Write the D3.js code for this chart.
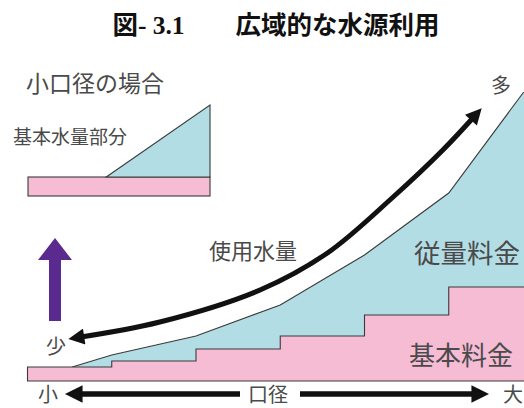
<!DOCTYPE html>
<html>
<head>
<meta charset="utf-8">
<script src="https://cdn.jsdelivr.net/npm/d3@7"></script>
<style>
  html, body { margin: 0; padding: 0; background: #fff; }
  svg { display: block; }
</style>
</head>
<body>
<svg id="chart" width="524" height="408"></svg>
<script>
// Meter diameter steps (small -> large)
const diameterSteps = [0, 1, 2, 3, 4, 5, 6];

// Basic charge per diameter step (stepped)
const basicCharge = [14, 20, 32, 45, 66, 94];

// Total charge (basic + volume charge) along the diameter axis
const totalX = [0.53, 1, 2, 3, 4, 5, 5.89];
const totalY = [14, 26, 45, 76, 126, 188, 289];

// Water usage trend curve
const usageX = [0.56, 1.57, 2.76, 3.56, 4.34, 4.93, 5.34];
const usageY = [43, 59, 91, 128, 184, 231, 268];

// Small-diameter inset: basic charge bar and basic-volume wedge
const insetX = [0.43, 1, 1];
const insetBasic = 19;
const insetVolume = [0, 72, 0];

const labels = {
  title: "図- 3.1　　広域的な水源利用",
  inset: "小口径の場合",
  insetPart: "基本水量部分",
  usage: "使用水量",
  volume: "従量料金",
  basic: "基本料金",
  many: "多",
  few: "少",
  small: "小",
  diameter: "口径",
  large: "大"
};

const svg = d3.select("#chart");
const BLUE = "#b3dde4";
const PINK = "#f5bcd4";
const EDGE = "#3a3a3a";
const TEXT = "#4a4a4a";
const CJK = "'Noto Sans CJK JP', 'Noto Sans', sans-serif";

// Main scales
const x = d3.scaleLinear().domain([0, 6]).range([27.5, 533]);
const y = d3.scaleLinear().domain([0, 300]).range([381, 81]);

// Volume charge area (drawn to baseline, basic charge sits on top)
const totalPts = totalX.map((v, i) => [v, totalY[i]]);
const areaTotal = d3.area()
  .x(d => x(d[0])).y0(y(0)).y1(d => y(d[1]));
svg.append("path")
  .datum([[totalX[0], 0], ...totalPts, [6, totalY[totalY.length - 1]]])
  .attr("d", areaTotal)
  .attr("fill", BLUE);
svg.append("path")
  .datum(totalPts)
  .attr("d", d3.line().x(d => x(d[0])).y(d => y(d[1])))
  .attr("fill", "none").attr("stroke", EDGE).attr("stroke-width", 1.1);

// Basic charge steps
const stepPts = [];
basicCharge.forEach((v, i) => {
  stepPts.push([diameterSteps[i], v]);
  stepPts.push([diameterSteps[i + 1], v]);
});
svg.append("path")
  .datum([[0, 0], ...stepPts, [6, 0]])
  .attr("d", d3.line().x(d => x(d[0])).y(d => y(d[1])))
  .attr("fill", PINK);
svg.append("path")
  .datum([[6, 0], [0, 0], ...stepPts])
  .attr("d", d3.line().x(d => x(d[0])).y(d => y(d[1])))
  .attr("fill", "none").attr("stroke", EDGE).attr("stroke-width", 1.1);

// Arrowhead markers
const defs = svg.append("defs");
defs.append("marker")
  .attr("id", "head")
  .attr("viewBox", "0 0 10 10")
  .attr("refX", 6).attr("refY", 5)
  .attr("markerWidth", 3.6).attr("markerHeight", 3.2)
  .attr("markerUnits", "strokeWidth")
  .attr("orient", "auto-start-reverse")
  .append("path").attr("d", "M0,0 L10,5 L0,10 Z").attr("fill", "#111");

// Water usage curve
svg.append("path")
  .datum(usageX.map((v, i) => [v, usageY[i]]))
  .attr("d", d3.line().x(d => x(d[0])).y(d => y(d[1])).curve(d3.curveCatmullRom))
  .attr("fill", "none").attr("stroke", "#111").attr("stroke-width", 5)
  .attr("stroke-linecap", "butt")
  .attr("marker-start", "url(#head)")
  .attr("marker-end", "url(#head)");

// Inset: small-diameter case
const ix = d3.scaleLinear().domain([0, 1]).range([28, 210]);
const iy = d3.scaleLinear().domain([0, 100]).range([196, 96]);
svg.append("rect")
  .attr("x", ix(0)).attr("y", iy(insetBasic))
  .attr("width", ix(1) - ix(0)).attr("height", iy(0) - iy(insetBasic))
  .attr("fill", PINK).attr("stroke", EDGE).attr("stroke-width", 1.1);
svg.append("path")
  .datum(insetX.map((v, i) => [v, insetBasic + insetVolume[i]]))
  .attr("d", d3.line().x(d => ix(d[0])).y(d => iy(d[1])).curve(d3.curveLinearClosed))
  .attr("fill", BLUE).attr("stroke", EDGE).attr("stroke-width", 1.1);

// Purple "more" arrow
svg.append("path")
  .attr("d", "M55,238 L72,260 L61,260 L61,321 L49,321 L49,260 L38,260 Z")
  .attr("fill", "#5a2a8e");

// Diameter axis arrows
svg.append("line")
  .attr("x1", 240).attr("y1", 394).attr("x2", 72).attr("y2", 394)
  .attr("stroke", "#111").attr("stroke-width", 5.5)
  .attr("marker-end", "url(#head)");
svg.append("line")
  .attr("x1", 300).attr("y1", 394).attr("x2", 482).attr("y2", 394)
  .attr("stroke", "#111").attr("stroke-width", 5.5)
  .attr("marker-end", "url(#head)");

// Texts
function label(t, px, py, size, opts = {}) {
  return svg.append("text")
    .attr("x", px).attr("y", py)
    .attr("font-family", opts.family || CJK)
    .attr("font-size", size)
    .attr("font-weight", opts.weight || 400)
    .attr("fill", opts.fill || TEXT)
    .attr("text-anchor", opts.anchor || "start")
    .text(t);
}

label(labels.title, 276, 34, 25.5, {
  family: "'Liberation Serif', 'Noto Sans CJK JP', serif",
  weight: 700, fill: "#111", anchor: "middle"
});
label(labels.inset, 26, 92, 23);
label(labels.insetPart, 13, 144, 19);
label(labels.usage, 209, 259, 22);
label(labels.volume, 414, 263, 26.5);
label(labels.basic, 409, 365, 26);
label(labels.many, 491, 93, 20);
label(labels.few, 46, 354, 20);
label(labels.small, 38, 401.5, 20);
label(labels.diameter, 248, 401.5, 20);
label(labels.large, 503, 401.5, 20);
</script>
</body>
</html>
